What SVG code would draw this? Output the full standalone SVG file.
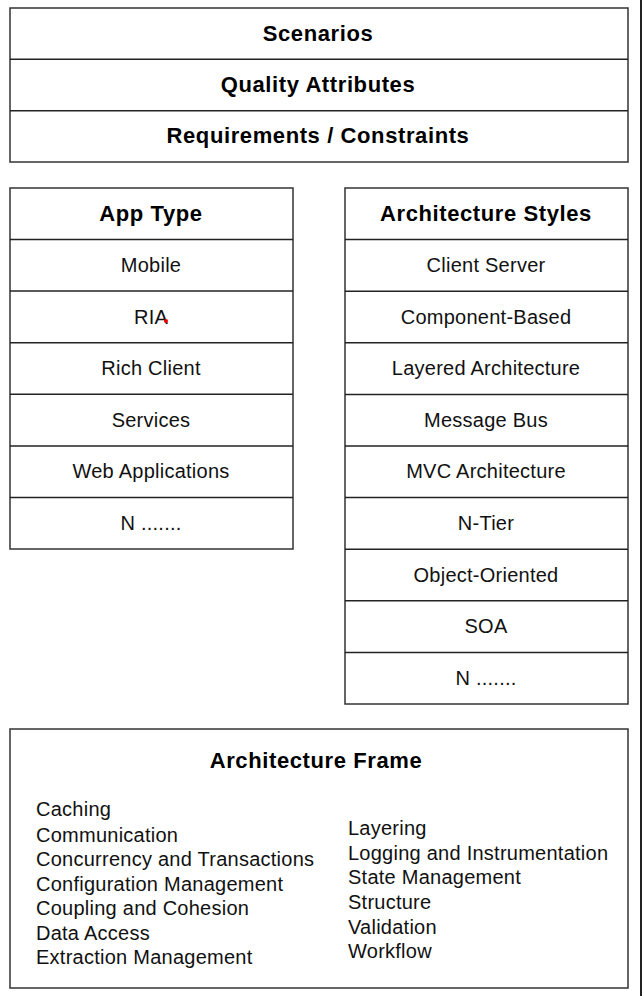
<svg xmlns="http://www.w3.org/2000/svg" width="643" height="996" viewBox="0 0 643 996">
<style>
.box{fill:#fff;stroke:#333;stroke-width:1.5}
.div{stroke:#222;stroke-width:1.5}
.h{font-family:"Liberation Sans",Arial,sans-serif;font-weight:bold;font-size:22px;letter-spacing:0.6px;fill:#000;text-anchor:middle}
.t{font-family:"Liberation Sans",Arial,sans-serif;font-size:20px;letter-spacing:0.25px;fill:#111;text-anchor:middle}
.f{font-family:"Liberation Sans",Arial,sans-serif;font-size:20px;letter-spacing:0.25px;fill:#111}
</style>
<rect x="0" y="0" width="643" height="996" fill="#fff"/>
<g id="top">
<rect class="box" x="10" y="8" width="618" height="154"/>
<line class="div" x1="10" y1="59.3" x2="628" y2="59.3"/>
<line class="div" x1="10" y1="110.7" x2="628" y2="110.7"/>
<text class="h" x="318" y="41">Scenarios</text>
<text class="h" x="318" y="92">Quality Attributes</text>
<text class="h" x="318" y="143">Requirements / Constraints</text>
</g>
<g id="apptype">
<rect class="box" x="10" y="188" width="283" height="361"/>
<line class="div" x1="10" y1="239.6" x2="293" y2="239.6"/>
<line class="div" x1="10" y1="291.1" x2="293" y2="291.1"/>
<line class="div" x1="10" y1="342.7" x2="293" y2="342.7"/>
<line class="div" x1="10" y1="394.3" x2="293" y2="394.3"/>
<line class="div" x1="10" y1="445.9" x2="293" y2="445.9"/>
<line class="div" x1="10" y1="497.4" x2="293" y2="497.4"/>
<text class="h" x="151" y="221">App Type</text>
<text class="t" x="151" y="272">Mobile</text>
<text class="t" x="151" y="324">RIA</text>
<circle cx="166" cy="321" r="2" fill="#e00"/>
<text class="t" x="151" y="375">Rich Client</text>
<text class="t" x="151" y="427">Services</text>
<text class="t" x="151" y="478">Web Applications</text>
<text class="t" x="151" y="530">N .......</text>
</g>
<g id="archstyles">
<rect class="box" x="345" y="188" width="283" height="516"/>
<line class="div" x1="345" y1="239.6" x2="628" y2="239.6"/>
<line class="div" x1="345" y1="291.2" x2="628" y2="291.2"/>
<line class="div" x1="345" y1="342.8" x2="628" y2="342.8"/>
<line class="div" x1="345" y1="394.4" x2="628" y2="394.4"/>
<line class="div" x1="345" y1="446" x2="628" y2="446"/>
<line class="div" x1="345" y1="497.6" x2="628" y2="497.6"/>
<line class="div" x1="345" y1="549.2" x2="628" y2="549.2"/>
<line class="div" x1="345" y1="600.8" x2="628" y2="600.8"/>
<line class="div" x1="345" y1="652.4" x2="628" y2="652.4"/>
<text class="h" x="486" y="221">Architecture Styles</text>
<text class="t" x="486" y="272">Client Server</text>
<text class="t" x="486" y="324">Component-Based</text>
<text class="t" x="486" y="375">Layered Architecture</text>
<text class="t" x="486" y="427">Message Bus</text>
<text class="t" x="486" y="478">MVC Architecture</text>
<text class="t" x="486" y="530">N-Tier</text>
<text class="t" x="486" y="582">Object-Oriented</text>
<text class="t" x="486" y="633">SOA</text>
<text class="t" x="486" y="685">N .......</text>
</g>
<g id="frame">
<rect class="box" x="10" y="729" width="618" height="259"/>
<text class="h" x="316" y="768">Architecture Frame</text>
<text class="f" x="36" y="816">Caching</text>
<text class="f" x="36" y="842">Communication</text>
<text class="f" x="36" y="866">Concurrency and Transactions</text>
<text class="f" x="36" y="891">Configuration Management</text>
<text class="f" x="36" y="915">Coupling and Cohesion</text>
<text class="f" x="36" y="940">Data Access</text>
<text class="f" x="36" y="964">Extraction Management</text>
<text class="f" x="348" y="835">Layering</text>
<text class="f" x="348" y="860">Logging and Instrumentation</text>
<text class="f" x="348" y="884">State Management</text>
<text class="f" x="348" y="909">Structure</text>
<text class="f" x="348" y="934">Validation</text>
<text class="f" x="348" y="958">Workflow</text>
</g>
<g id="connectors"></g>
<rect x="640" y="0" width="2" height="996" fill="#222"/>
</svg>
